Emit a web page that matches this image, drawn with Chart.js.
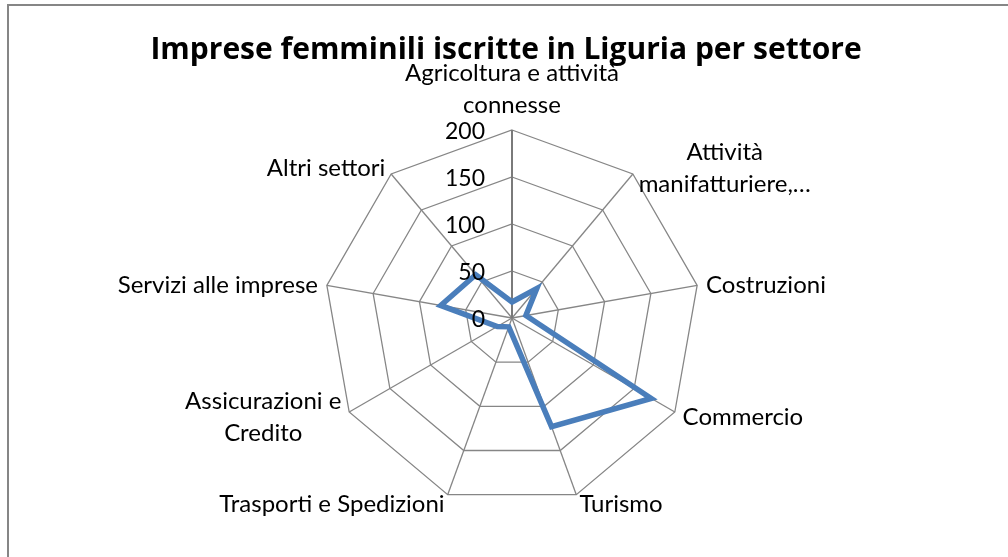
<!DOCTYPE html>
<html>
<head>
<meta charset="utf-8">
<script src="https://cdn.jsdelivr.net/npm/chart.js@4"></script>
<style>
  html, body { margin: 0; padding: 0; background: #fff; }
  canvas { display: block; }
</style>
</head>
<body>
<canvas id="chart" width="1008" height="557"></canvas>
<script>
// sectors, clockwise from the top
const categories = [
  ["Agricoltura e attività", "connesse"],
  ["Attività", "manifatturiere,…"],
  "Costruzioni",
  "Commercio",
  "Turismo",
  "Trasporti e Spedizioni",
  ["Assicurazioni e", "Credito"],
  "Servizi alle imprese",
  "Altri settori",
];
const impreseValues = [17, 41, 15, 171, 123, 10, 18, 77, 60];
const tickValues = [0, 50, 100, 150, 200];
const chartTitle = "Imprese femminili iscritte in Liguria per settore";

const GRID = "#868686";
const LABEL_FONT = "24px Lato";
const TICK_FONT = "23px Lato";
const LINE_H = 32;

// frame, title, tick labels and category labels, placed from the radial scale
const radarDecor = {
  id: "radarDecor",
  beforeDraw(chart) {
    const { ctx } = chart;
    ctx.save();
    ctx.strokeStyle = GRID;
    ctx.lineWidth = 2;
    ctx.strokeRect(8, 5, 1100, 700);
    ctx.font = "bold 30px 'Open Sans'";
    ctx.fillStyle = "#000";
    ctx.textAlign = "center";
    ctx.textBaseline = "alphabetic";
    ctx.fillText(chartTitle, 506, 59);
    ctx.restore();
  },
  afterDatasetsDraw(chart) {
    const { ctx } = chart;
    const scale = chart.scales.r;
    ctx.save();
    ctx.font = TICK_FONT;
    ctx.fillStyle = "#000";
    ctx.textAlign = "right";
    ctx.textBaseline = "middle";
    tickValues.forEach((v) => {
      const d = scale.getDistanceFromCenterForValue(v);
      ctx.fillText(String(v), scale.xCenter - 27, scale.yCenter - d + 1.5);
    });
    ctx.restore();
  },
  afterDraw(chart) {
    const { ctx } = chart;
    const scale = chart.scales.r;
    const n = categories.length;
    ctx.save();
    ctx.font = LABEL_FONT;
    ctx.fillStyle = "#000";
    ctx.textBaseline = "middle";
    ctx.textAlign = "center";
    categories.forEach((label, i) => {
      const lines = Array.isArray(label) ? label : [label];
      const w = Math.max(...lines.map((l) => ctx.measureText(l).width));
      const h = lines.length * LINE_H;
      const q = scale.getPointPosition(i, scale.drawingArea + 9);
      const deg = (360 / n) * i;
      let cx;
      let top;
      if (deg === 0) {
        cx = q.x;
        top = q.y - h;
      } else {
        cx = deg < 180 ? q.x + w / 2 : q.x - w / 2;
        top = q.y + 1 - h / 2;
      }
      lines.forEach((l, k) => {
        ctx.fillText(l, cx, top + LINE_H * k + LINE_H / 2);
      });
    });
    ctx.restore();
  },
};

new Chart(document.getElementById("chart"), {
  type: "radar",
  data: {
    labels: categories,
    datasets: [
      {
        label: "Imprese femminili",
        data: impreseValues,
        borderColor: "#4a7ebb",
        borderWidth: 5.5,
        backgroundColor: "rgba(0,0,0,0)",
        fill: false,
        pointRadius: 0,
        pointHoverRadius: 0,
        tension: 0,
      },
    ],
  },
  plugins: [radarDecor],
  options: {
    responsive: false,
    animation: false,
    layout: {
      padding: { top: 130, left: 316, right: 300, bottom: 50 },
    },
    plugins: {
      legend: { display: false },
      tooltip: { enabled: false },
      title: { display: false },
    },
    scales: {
      r: {
        min: 0,
        max: 200,
        beginAtZero: true,
        ticks: { stepSize: 50, display: false },
        pointLabels: { display: false },
        grid: { color: GRID, lineWidth: 1.3 },
        angleLines: {
          color: (ctx) => (ctx.index === 0 ? "#7a7a7a" : GRID),
          lineWidth: (ctx) => (ctx.index === 0 ? 2 : 1.3),
        },
      },
    },
  },
});
</script>
</body>
</html>
